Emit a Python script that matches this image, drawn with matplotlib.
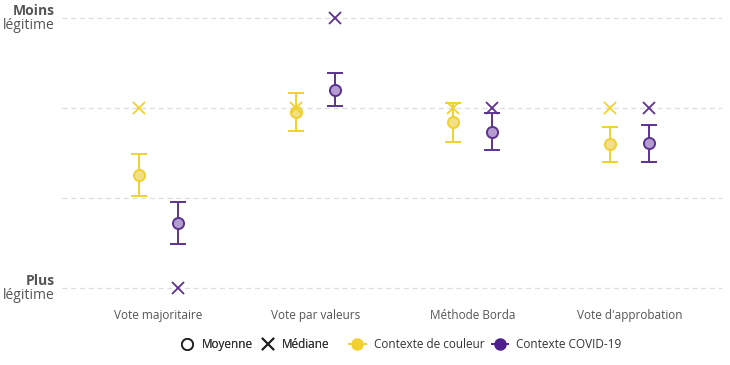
import numpy as np
import matplotlib
matplotlib.use('Agg')
import matplotlib.pyplot as plt
from matplotlib.lines import Line2D

plt.rcParams['font.family'] = ['Open Sans', 'DejaVu Sans']

categories = ['Vote majoritaire', 'Vote par valeurs', 'Méthode Borda', "Vote d'approbation"]

# contexte de couleur
couleur_mean = [2.26, 2.96, 2.84, 2.60]
couleur_low = [2.02, 2.74, 2.62, 2.40]
couleur_high = [2.49, 3.17, 3.06, 2.79]
couleur_median = [3, 3, 3, 3]

# contexte COVID-19
covid_mean = [1.72, 3.20, 2.73, 2.61]
covid_low = [1.49, 3.02, 2.53, 2.40]
covid_high = [1.96, 3.39, 2.94, 2.81]
covid_median = [1, 4, 3, 3]

yellow = '#f0d12f'
yellow_fill = '#f3df85'
purple = '#5c3290'
purple_fill = '#b39ccf'
grey = '#555555'

fig = plt.figure(figsize=(7.3, 3.65), dpi=100)
ax = fig.add_axes([0.085, 0.184, 0.904, 0.794])

x = np.arange(len(categories))
dodge = 0.125

for off, mean, low, high, med, col, fill in [
        (-dodge, couleur_mean, couleur_low, couleur_high, couleur_median, yellow, yellow_fill),
        (dodge, covid_mean, covid_low, covid_high, covid_median, purple, purple_fill)]:
    mean = np.array(mean)
    err = [mean - np.array(low), np.array(high) - mean]
    ax.errorbar(x + off, mean, yerr=err, fmt='none', ecolor=col, elinewidth=1.4,
                capsize=6, capthick=1.4, zorder=2)
    ax.plot(x + off, mean, 'o', ms=8, mfc=fill, mec=col, mew=1.4, zorder=3)
    ax.plot(x + off, med, 'x', ms=8, color=col, mew=1.3, zorder=3)

ax.set_xlim(-0.613, 3.587)
ax.set_ylim(1 - 10 / 90, 4 + 10 / 90)
for v in [1, 2, 3, 4]:
    ax.axhline(v, color='#dddddd', lw=0.9, ls=(0, (4, 3)), zorder=0)

ax.set_xticks(x)
ax.set_xticklabels(categories, fontsize=8.5, color=grey)
ax.tick_params(axis='x', length=0, pad=8)
ax.set_yticks([])
for s in ax.spines.values():
    s.set_visible(False)

tr = ax.get_yaxis_transform()
for v, word in [(4.0, 'Moins'), (1.0, 'Plus')]:
    ax.text(-0.011, v, word, transform=tr, ha='right', va='bottom',
            fontsize=10, fontweight='bold', color=grey)
    ax.text(-0.011, v, 'légitime', transform=tr, ha='right', va='top',
            fontsize=10, color=grey)

h1 = [Line2D([], [], marker='o', ls='none', ms=8, mfc='white', mec='#222222', mew=1.3),
      Line2D([], [], marker='x', ls='none', ms=9, color='#222222', mew=1.4)]
leg1 = fig.legend(h1, ['Moyenne', 'Médiane'], loc='center', bbox_to_anchor=(0.35, 0.055),
                  ncol=2, frameon=False, fontsize=8.5, handlelength=1.0, columnspacing=0.8,
                  handletextpad=0.7, labelcolor='#333333')
h2 = [Line2D([], [], marker='o', color='#f0d12f', ms=8, lw=1.4),
      Line2D([], [], marker='o', color='#4e1f8c', ms=8, lw=1.4)]
leg2 = fig.legend(h2, ['Contexte de couleur', 'Contexte COVID-19'], loc='center',
                  bbox_to_anchor=(0.665, 0.055), ncol=2, frameon=False, fontsize=8.5,
                  handlelength=1.4, columnspacing=0.6, handletextpad=0.7, labelcolor='#333333')
fig.add_artist(leg1)

fig.savefig('out.png', dpi=100)
